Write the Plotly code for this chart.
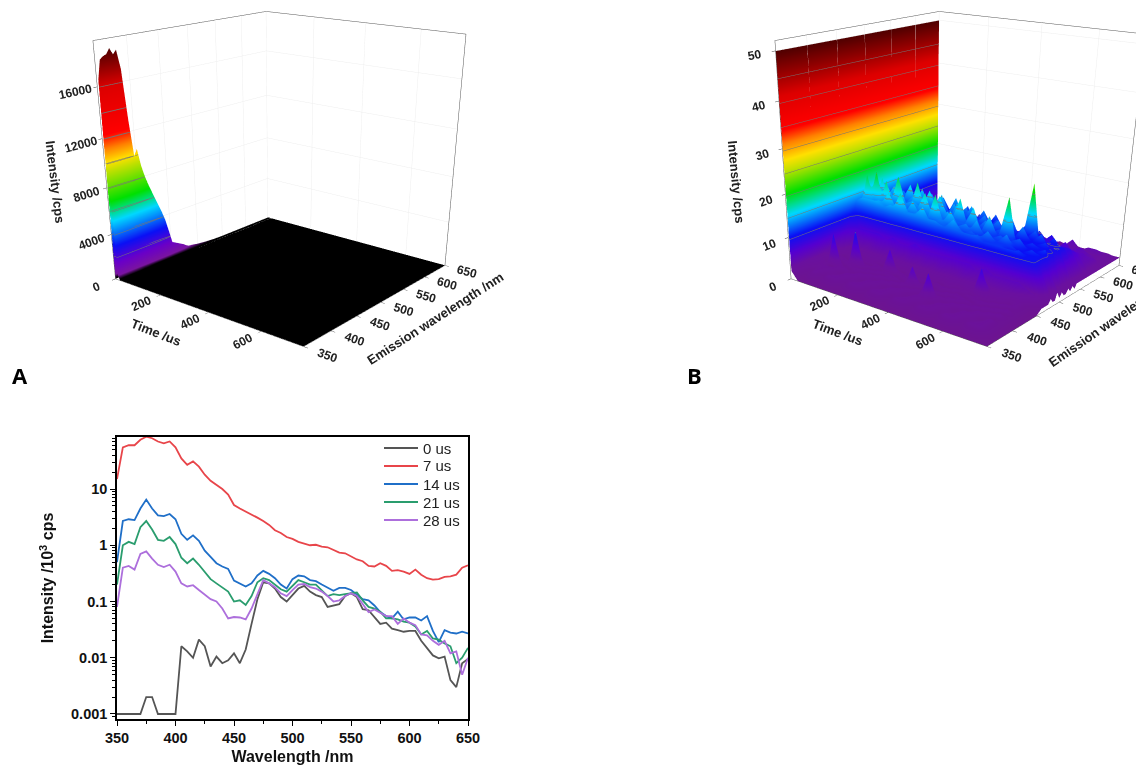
import plotly.graph_objects as go

FONT = "Liberation Sans"

# ---------- panel C data ----------
wavelength = list(range(350, 655, 5))
s0 = [.001,.001,.001,.001,.001,.002,.002,.001,.001,.001,.001,.016,.013,.010,.021,.016,.007,.0105,.008,.009,.012,.008,.014,.04,.11,.22,.21,.17,.12,.10,.13,.17,.19,.15,.13,.12,.08,.085,.09,.125,.14,.12,.073,.07,.052,.04,.042,.033,.031,.029,.03,.03,.02,.015,.011,.0098,.0105,.004,.003,.008,.0095]
s7 = [15,55,60,60,75,85,80,70,65,70,55,35,27,31,25,18,14,12,10,8,5.2,4.5,4,3.6,3.1,2.7,2.3,1.85,1.65,1.4,1.3,1.15,1.08,1,1.02,.95,.92,.82,.74,.72,.63,.56,.52,.43,.42,.48,.43,.35,.36,.34,.31,.37,.3,.26,.245,.25,.275,.28,.3,.4,.44]
s14 = [.5,2.7,2.9,2.8,4.5,6.5,4.5,3.4,3.3,3.6,2.9,1.6,1.25,1.5,1.2,.8,.62,.48,.42,.38,.235,.21,.185,.21,.29,.35,.31,.26,.2,.17,.25,.29,.28,.24,.23,.2,.175,.155,.175,.175,.16,.13,.11,.105,.085,.065,.055,.05,.066,.048,.052,.052,.046,.055,.03,.019,.031,.028,.027,.029,.027]
s21 = [.2,1.0,1.15,1.05,2.1,2.7,1.9,1.25,1.2,1.4,1.05,.6,.48,.58,.45,.33,.25,.21,.18,.15,.1,.105,.087,.125,.22,.26,.24,.2,.165,.15,.19,.24,.22,.2,.2,.16,.125,.135,.13,.135,.14,.145,.105,.08,.075,.066,.05,.05,.048,.044,.042,.036,.026,.03,.022,.021,.018,.016,.008,.01,.015]
s28 = [.08,.4,.43,.37,.7,.78,.58,.45,.41,.45,.34,.21,.185,.195,.16,.135,.11,.1,.075,.05,.053,.052,.048,.075,.14,.24,.21,.18,.14,.125,.16,.2,.205,.18,.17,.15,.125,.1,.105,.125,.14,.125,.09,.065,.072,.062,.055,.055,.04,.05,.042,.038,.026,.025,.02,.017,.02,.012,.013,.005,.01]
series_names = ["0 us", "7 us", "14 us", "21 us", "28 us"]
series_vals = [s0, s7, s14, s21, s28]
series_cols = ["#555555", "#e8454a", "#1f6fc8", "#2a9d6e", "#ad6fdc"]

# ---------- panel A data ----------
time_a = [0, 7, 14, 21, 100, 200, 300, 400, 500, 600, 700, 750]
wall_a = [16500,18000,18200,18300,18700,18200,18500,17000,13000,10000,10500,9000,8000,7200,6500,5800,5100,4400,3600,2500,1400,1250,1100,950,800,600,450,420,380,320,280,250,220,190,170,150,130,120,110,100,95,90,85,80,75,70,68,66,64,62,60,58,56,54,52,50,50,50,50,50,50]
step_a = [v * 0.02 for v in wall_a]
floor_a = [20] * 61

# ---------- panel B data ----------
wl_b = [350,370,390,400,405,410,415,420,425,430,435,440,450,460,465,
        470,475,480,485,490,495,500,505,510,515,520,525,530,535,540,545,550,555,560,565,570,575,580,585,590,595,600,
        610,620,630,640,650]
time_b = [0,4,30,60,90,120,150,180,210,240,270,300,330,360,390,420,450,480,510,540,570,600,630,660,690,720,750]
b_low = [
 [50]*15,
 [2,2,3,3,3,3,4,4,4,4,4,5,6,8,10],
 [0,1,2,2,1,2,2,1,2,2,1,2,3,5,7],
 [0,2,2,1,9,2,1,2,2,1,2,2,3,5,7],
 [0,1,2,2,2,1,2,2,1,2,2,1,3,4,7],
 [0,2,1,2,1,2,2,10,2,1,2,2,3,5,7],
 [0,2,2,1,2,2,1,2,2,1,2,2,3,5,6],
 [0,1,2,2,1,2,2,1,2,2,2,1,3,4,7],
 [0,2,1,2,2,1,2,2,1,2,1,2,3,5,6],
 [0,2,2,1,2,2,1,2,2,7,2,2,3,4,6],
 [0,1,2,2,1,2,2,2,1,2,2,1,3,5,7],
 [0,2,1,2,2,1,2,1,2,2,1,2,3,4,6],
 [0,2,2,1,2,2,1,2,2,1,2,2,3,5,6],
 [0,1,2,2,1,2,6,2,1,2,2,1,3,4,6],
 [0,2,1,2,2,1,2,2,2,1,2,2,3,5,6],
 [0,2,2,1,2,2,1,2,1,2,2,1,3,4,6],
 [0,1,2,7,1,2,2,1,2,2,1,2,3,4,6],
 [0,2,1,2,2,1,2,2,1,2,2,1,3,5,6],
 [0,2,2,1,2,2,1,2,2,1,2,2,3,4,5],
 [0,1,2,2,1,2,2,2,1,2,1,2,3,4,6],
 [0,2,1,2,2,1,2,1,2,2,2,8,3,4,5],
 [0,2,2,1,2,2,1,2,2,1,2,2,3,4,5],
 [0,1,2,2,1,2,2,1,2,2,1,2,3,4,5],
 [0,2,1,2,2,1,2,2,1,2,2,1,2,4,5],
 [0,2,2,1,2,2,1,2,2,1,2,2,2,3,4],
 [0,1,1,1,1,1,1,1,1,1,1,1,1,2,3],
 [0,0,0,0,0,0,0,0,0,0,0,0,0,1,1],
]
b_high = [
 [50]*32,
 [11,13,13,12,12,11,11,12,12,12,11,11,11,11,10,10,10,10,9,9,8,7,7,6,6,5,5,4,4,3,3,3],
 [7,14,13,19,13,12,15,13,13,17,12,12,11,13,11,11,14,10,9,8,7,8,6,6,5,5,4,4,4,3,3,2],
 [6,14,13,13,20,12,13,13,16,12,12,15,11,11,11,13,11,10,9,8,7,7,6,6,6,5,5,4,3,3,3,2],
 [6,14,14,13,12,18,13,13,13,12,15,12,12,11,14,11,10,10,10,8,7,7,7,5,5,5,5,4,4,3,3,2],
 [6,13,13,16,12,12,13,19,13,12,12,12,16,11,11,11,10,13,9,8,8,7,6,6,5,6,4,4,3,3,2,2],
 [6,14,13,13,12,15,13,13,12,12,14,12,11,11,15,11,11,10,9,11,7,7,6,6,5,5,5,5,4,3,3,2],
 [6,13,17,13,12,12,12,14,13,18,12,12,11,11,11,14,10,10,9,8,9,7,6,6,5,5,4,4,3,3,3,2],
 [5,13,13,12,15,12,13,13,12,12,12,16,11,11,11,11,10,13,9,8,7,7,8,6,5,5,5,4,4,3,2,2],
 [5,13,13,13,12,12,17,13,12,12,14,12,11,15,11,11,10,10,9,11,7,7,6,6,5,6,4,4,3,3,3,2],
 [5,13,15,12,12,14,12,12,12,16,12,11,11,11,11,10,14,10,9,8,7,9,6,6,5,5,5,4,4,3,2,2],
 [5,13,12,12,18,12,12,15,12,12,11,11,14,11,11,10,10,10,12,8,7,7,6,7,5,5,4,5,3,3,3,2],
 [5,13,12,13,12,12,14,12,12,11,15,11,11,11,13,10,10,9,9,8,10,7,6,6,5,6,5,4,4,3,2,2],
 [5,12,12,12,15,12,12,12,17,11,11,11,11,14,10,10,10,9,9,11,7,7,6,6,5,5,4,4,3,5,3,2],
 [5,12,14,12,12,11,12,12,11,11,14,11,11,11,10,13,10,9,9,8,7,7,8,6,5,5,5,4,3,3,2,2],
 [5,12,12,11,13,11,11,16,11,11,11,11,13,10,10,10,9,12,9,8,7,7,6,6,6,5,4,4,4,3,3,2],
 [5,12,11,12,11,14,11,11,11,13,11,11,10,10,12,10,9,9,9,10,7,7,6,6,5,5,5,4,3,3,2,2],
 [5,12,12,11,11,11,11,15,11,11,10,13,10,10,10,10,13,9,8,8,7,8,6,6,5,5,4,4,3,4,3,2],
 [4,11,11,13,11,11,11,11,11,12,10,10,10,14,10,9,9,9,8,8,9,7,6,6,5,6,4,4,3,3,2,2],
 [4,11,11,11,11,12,11,11,20,11,10,10,10,10,10,9,9,12,8,8,7,7,6,5,5,5,5,4,4,3,3,2],
 [4,11,11,11,13,11,11,11,10,10,10,13,10,10,10,22,9,9,8,10,7,7,6,6,5,5,4,4,3,3,2,2],
 [4,11,10,11,10,11,12,10,10,10,10,10,10,12,9,9,9,9,8,8,7,9,6,5,5,5,5,4,3,5,3,2],
 [4,11,11,10,10,10,10,10,11,10,10,10,12,9,9,9,9,8,8,8,7,7,6,6,7,5,4,4,4,3,2,2],
 [4,10,10,10,11,10,10,10,10,10,11,9,9,9,11,9,8,8,8,7,7,7,6,5,5,5,5,5,3,4,3,2],
 [3,10,10,10,10,10,11,10,9,10,9,9,10,9,9,9,8,8,8,7,7,6,6,5,5,5,4,4,3,4,3,2],
 [3,5,6,5,5,6,5,5,6,5,5,5,6,5,5,5,5,5,5,4,5,4,4,4,4,4,4,3,3,3,3,2],
 [1,1,2,1,1,3,1,2,1,1,2,1,2,1,2,2,2,2,2,2,2,2,2,2,2,2,2,2,2,2,2,2],
]
b_rows = [lo + hi for lo, hi in zip(b_low, b_high)]

rainbow = [[0,"#6c1490"],[0.06,"#6a10a0"],[0.12,"#5500d0"],[0.2,"#0a10f5"],[0.3,"#00d8ff"],[0.4,"#00e000"],[0.5,"#c0e000"],[0.55,"#ffe000"],[0.62,"#ff8000"],[0.68,"#ff0000"],[0.82,"#dd0000"],[1,"#500000"]]
rainbow_a = [[0,"#000000"],[0.004,"#000000"],[0.02,"#7a14a0"],[0.08,"#6a00c8"],[0.16,"#0a10f5"],[0.28,"#00d8ff"],[0.37,"#00e000"],[0.5,"#c0e000"],[0.54,"#ffe000"],[0.6,"#ff8000"],[0.66,"#ff0000"],[0.85,"#dd0000"],[1,"#500000"]]

flat = dict(ambient=1, diffuse=0, specular=0, roughness=1, fresnel=0)
fig = go.Figure()

fig.add_trace(go.Surface(
    x=time_a, y=wavelength,
    z=[list(col) for col in zip([0]*61, wall_a, step_a, *[floor_a]*9)],
    scene="scene", showscale=False, colorscale=rainbow_a, cmin=0, cmax=18700, lighting=flat,
    contours=dict(z=dict(show=True, start=2000, end=18000, size=2000, color="rgba(40,40,40,0.7)", width=1)),
    hoverinfo="skip"))
fig.add_trace(go.Surface(
    x=time_b, y=wl_b,
    z=[list(col) for col in zip(*b_rows)],
    scene="scene2", showscale=False, colorscale=rainbow, cmin=0, cmax=50, lighting=flat,
    contours=dict(z=dict(show=True, start=9.5, end=45, size=5, color="rgba(40,40,40,0.7)", width=1)),
    hoverinfo="skip"))

for name, vals, col in zip(series_names, series_vals, series_cols):
    fig.add_trace(go.Scatter(x=wavelength, y=vals, mode="lines", name=name, showlegend=False,
                             line=dict(color=col, width=1.8), xaxis="x", yaxis="y"))

def ax3d(title, tickvals, ticktext, rng):
    return dict(title=dict(text=title, font=dict(family=FONT, size=13, color="#222", weight=700)),
                tickvals=tickvals, ticktext=ticktext, range=rng, tickfont=dict(family=FONT, size=12, color="#222", weight=700),
                showbackground=True, backgroundcolor="white", gridcolor="#eeeeee", gridwidth=1,
                showline=True, linecolor="#555", linewidth=1, mirror=True, showspikes=False,
                zeroline=False, ticks="outside", ticklen=4, tickcolor="#444")

def scene(domx, domy, ztv, zr, eye, center):
    t_ticks = [200, 400, 600]
    w_ticks = list(range(350, 651, 50))
    return dict(domain=dict(x=domx, y=domy),
                xaxis=ax3d("Time /us", t_ticks, [str(v) for v in t_ticks], [0, 750]),
                yaxis=ax3d("Emission wavelength /nm", w_ticks, [str(v) for v in w_ticks], [350, 650]),
                zaxis=ax3d("Intensity /cps", ztv, [str(v) for v in ztv], zr),
                aspectmode="manual", aspectratio=dict(x=1, y=1, z=0.95),
                camera=dict(eye=eye, center=center, up=dict(x=0, y=0, z=1),
                            projection=dict(type="perspective")))

W, H = 1136, 771
legend_shapes, legend_notes = [], []
for i, (name, col) in enumerate(zip(series_names, series_cols)):
    yy = 1 - (448 + 18 * i) / H
    legend_shapes.append(dict(type="line", xref="paper", yref="paper", x0=384/W, x1=418/W, y0=yy, y1=yy,
                              line=dict(color=col, width=1.8)))
    legend_notes.append(dict(text=name, x=421/W, y=yy, xref="paper", yref="paper", xanchor="left", yanchor="middle",
                             showarrow=False, font=dict(family=FONT, size=15, color="#222")))

fig.update_layout(
    width=W, height=H, autosize=False, margin=dict(l=0, r=0, t=0, b=0), showlegend=False,
    paper_bgcolor="white", plot_bgcolor="white", shapes=legend_shapes,
    scene=scene([0, 566/W], [0, 1], [0, 4000, 8000, 12000, 16000], [0, 19400],
                dict(x=2.328, y=-2.880, z=1.046), dict(x=0.272, y=-0.336, z=-0.788)),
    scene2=scene([686/W, 1], [0, 1], [0, 10, 20, 30, 40, 50], [0, 52],
                 dict(x=2.173, y=-3.006, z=1.046), dict(x=0.117, y=-0.462, z=-0.788)),
    xaxis=dict(domain=[117/W, 468/W], range=[350, 650], tickvals=list(range(350, 651, 50)), automargin=False,
               minor=dict(tickvals=list(range(375, 650, 50)), ticks="outside", ticklen=3, tickcolor="black"),
               ticks="outside", ticklen=5, tickwidth=1, tickcolor="black", showline=True, linecolor="black",
               linewidth=1.5, mirror=True, showgrid=False, zeroline=False,
               tickfont=dict(family=FONT, size=14.5, color="#111", weight=700),
               title=dict(text="Wavelength /nm", font=dict(family=FONT, size=16, color="#111", weight=700), standoff=6)),
    yaxis=dict(domain=[1-719/H, 1-437/H], type="log", range=[-3.089, 1.925], automargin=False,
               tickvals=[.001, .01, .1, 1, 10], ticktext=["0.001", "0.01", "0.1", "1", "10"],
               minor=dict(ticks="outside", ticklen=3, tickcolor="black", dtick="D1", showgrid=False),
               ticks="outside", ticklen=5, tickcolor="black", showline=True, linecolor="black",
               linewidth=1.5, mirror=True, showgrid=False, zeroline=False,
               tickfont=dict(family=FONT, size=14.5, color="#111", weight=700),
               title=dict(text="Intensity /10<sup>3</sup> cps", font=dict(family=FONT, size=16, color="#111", weight=700), standoff=13)),
    annotations=legend_notes + [
        dict(text="<b>A</b>", x=10/W, y=1-375/H, xref="paper", yref="paper", xanchor="left", yanchor="middle",
             showarrow=False, font=dict(family="Open Sans", size=22, color="black")),
        dict(text="<b>B</b>", x=685/W, y=1-375/H, xref="paper", yref="paper", xanchor="left", yanchor="middle",
             showarrow=False, font=dict(family="Open Sans", size=22, color="black")),
        dict(text="<b>C</b>", x=10/W, y=1-778/H, xref="paper", yref="paper", xanchor="left", yanchor="middle",
             showarrow=False, font=dict(family="Open Sans", size=22, color="black")),
    ],
)
fig.write_html("out.html", config=dict(displayModeBar=False),
               post_script="document.body.style.margin='0';document.body.style.overflow='hidden';")
